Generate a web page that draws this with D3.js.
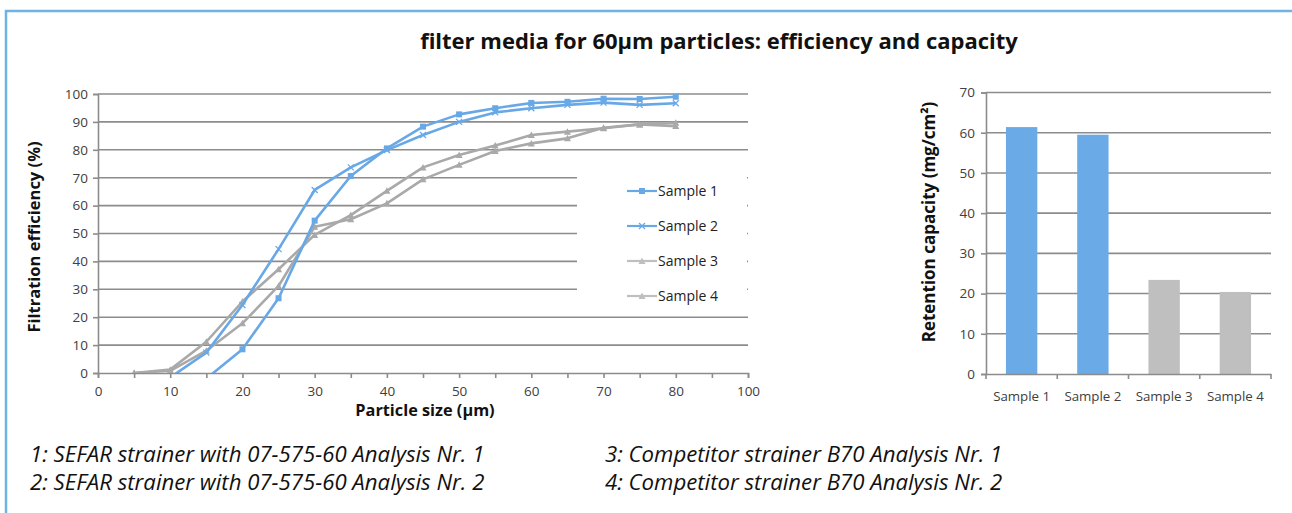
<!DOCTYPE html>
<html>
<head>
<meta charset="utf-8">
<script src="https://cdn.jsdelivr.net/npm/d3@7"></script>
<style>
  body { margin: 0; background: #fff; }
  text { font-family: "Open Sans", "Noto Sans", sans-serif; }
</style>
</head>
<body>
<svg id="svg" width="1292" height="513"></svg>
<script>
"use strict";
// particle sizes (µm) and efficiency per sample (%)
const sizes = [5, 10, 15, 20, 25, 30, 35, 40, 45, 50, 55, 60, 65, 70, 75, 80];
const sample1 = [null, null, -2, 8.5, 26.8, 54.6, 70.6, 80.5, 88.3, 92.7, 94.9, 96.8, 97.2, 98.3, 98.2, 99.0];
const sample2 = [null, -1.6, 7.3, 24.4, 44.4, 65.6, 73.7, 79.9, 85.3, 90.0, 93.4, 94.9, 96.1, 96.9, 96.1, 96.7];
const sample3 = [0, 1.2, 11.2, 25.6, 37.2, 49.5, 56.6, 65.3, 73.7, 78.1, 81.5, 85.3, 86.5, 87.7, 89.1, 88.5];
const sample4 = [0, 0.8, 8.0, 17.8, 31.2, 52.4, 55.1, 60.8, 69.4, 74.6, 79.6, 82.3, 84.1, 87.9, 89.1, 89.7];
const seriesNames = ["Sample 1", "Sample 2", "Sample 3", "Sample 4"];
const xTickLabels = ["0", "10", "20", "30", "40", "50", "60", "70", "80", "100"];
const yTickLabels = [0, 10, 20, 30, 40, 50, 60, 70, 80, 90, 100];
// retention capacity (mg/cm²)
const retention = [61.4, 59.5, 23.4, 20.4];
const notes = [
  "1: SEFAR strainer with 07-575-60 Analysis Nr. 1",
  "2: SEFAR strainer with 07-575-60 Analysis Nr. 2",
  "3: Competitor strainer B70 Analysis Nr. 1",
  "4: Competitor strainer B70 Analysis Nr. 2"
];

const blue = "#68a8e6", gray = "#a9a9a9", barGray = "#bfbfbf", grid = "#8c8c8c", txt = "#404040";
const svg = d3.select("#svg");

// frame
svg.append("path").attr("d", "M6,513 V11 H1292").attr("fill", "none")
  .attr("stroke", "#6db3e3").attr("stroke-width", 2.5);

svg.append("text").attr("x", 719).attr("y", 49).attr("text-anchor", "middle")
  .attr("font-size", 22).attr("font-weight", "bold").attr("fill", "#111")
  .text("filter media for 60µm particles: efficiency and capacity");

// ---------- line chart ----------
const x = d3.scaleLinear().domain([0, 90]).range([98, 748]);
const y = d3.scaleLinear().domain([0, 100]).range([373, 94]);

const g = svg.append("g");
g.selectAll(".grid").data(yTickLabels.slice(1)).enter().append("line")
  .attr("x1", x(0)).attr("x2", x(90)).attr("y1", d => y(d)).attr("y2", d => y(d))
  .attr("stroke", grid).attr("stroke-width", 1.6);

const yAxis = g.append("g").attr("transform", `translate(${x(0)},0)`)
  .call(d3.axisLeft(y).tickValues(yTickLabels).tickSize(5).tickPadding(5));
const xAxis = g.append("g").attr("transform", `translate(0,${y(0)})`)
  .call(d3.axisBottom(x).tickValues(d3.range(0, 91, 5)).tickSize(5).tickPadding(8)
    .tickFormat(d => d % 10 === 0 ? xTickLabels[d / 10] : ""));
[yAxis, xAxis].forEach(a => {
  a.selectAll("path, line").attr("stroke", grid).attr("stroke-width", 1.6);
  a.selectAll("text").attr("font-size", 13.5).attr("fill", txt).attr("font-family", "Open Sans");
});

// legend background hides gridlines
g.append("rect").attr("x", 577).attr("y", 156).attr("width", 170).attr("height", 145).attr("fill", "#fff");

svg.append("clipPath").attr("id", "plot").append("rect")
  .attr("x", x(0)).attr("y", y(100) - 10).attr("width", x(90) - x(0)).attr("height", y(0) - y(100) + 10);

const series = [
  { name: seriesNames[0], values: sample1, color: blue, marker: "square" },
  { name: seriesNames[1], values: sample2, color: blue, marker: "cross" },
  { name: seriesNames[2], values: sample3, color: gray, marker: "triangle" },
  { name: seriesNames[3], values: sample4, color: gray, marker: "triangle" }
];
const line = d3.line().defined(d => d[1] !== null).x(d => x(d[0])).y(d => y(d[1]));
const plot = g.append("g").attr("clip-path", "url(#plot)");

function drawMarker(sel, type, color) {
  if (type === "square") {
    sel.append("rect").attr("x", -3).attr("y", -3).attr("width", 6).attr("height", 6).attr("fill", color);
  } else if (type === "cross") {
    sel.append("path").attr("d", "M-3,-3L3,3M-3,3L3,-3").attr("stroke", color).attr("stroke-width", 1.3);
  } else {
    sel.append("path").attr("d", "M0,-3.5L3.5,3L-3.5,3Z").attr("fill", color);
  }
}

series.slice().reverse().forEach(s => {
  const pts = sizes.map((v, i) => [v, s.values[i]]);
  plot.append("path").datum(pts).attr("d", line).attr("fill", "none")
    .attr("stroke", s.color).attr("stroke-width", 2.6).attr("stroke-linejoin", "round");
  plot.selectAll(null).data(pts.filter(p => p[1] !== null && p[1] >= 0)).enter().append("g")
    .attr("transform", p => `translate(${x(p[0])},${y(p[1])})`)
    .each(function () { drawMarker(d3.select(this), s.marker, s.color); });
});

// legend
const leg = g.append("g").selectAll("g").data(series).enter().append("g")
  .attr("transform", (d, i) => `translate(627,${191 + i * 35})`);
leg.append("line").attr("x1", 0).attr("x2", 30).attr("stroke", (d, i) => i < 2 ? blue : barGray).attr("stroke-width", 2.2);
leg.each(function (d, i) { drawMarker(d3.select(this).append("g").attr("transform", "translate(15,0)"), d.marker, i < 2 ? blue : barGray); });
leg.append("text").attr("x", 31).attr("y", 5).attr("font-size", 14).attr("fill", "#222").text(d => d.name);

svg.append("text").attr("transform", "translate(40,237) rotate(-90)").attr("text-anchor", "middle")
  .attr("font-size", 16.5).attr("font-weight", "bold").attr("fill", "#111").text("Filtration efficiency (%)");
svg.append("text").attr("x", 425).attr("y", 416).attr("text-anchor", "middle")
  .attr("font-size", 16.3).attr("font-weight", "bold").attr("fill", "#111").text("Particle size (µm)");

// ---------- bar chart ----------
const xb = d3.scaleBand().domain(seriesNames).range([986, 1271]).paddingInner(0.56).paddingOuter(0.28);
const yb = d3.scaleLinear().domain([0, 70]).range([374, 92.5]);
const gb = svg.append("g");
gb.selectAll(".grid").data(d3.range(10, 71, 10)).enter().append("line")
  .attr("x1", 986).attr("x2", 1271).attr("y1", d => yb(d)).attr("y2", d => yb(d))
  .attr("stroke", grid).attr("stroke-width", 1.6);
gb.selectAll(".bar").data(retention).enter().append("rect")
  .attr("x", (d, i) => xb(seriesNames[i])).attr("width", xb.bandwidth())
  .attr("y", d => yb(d)).attr("height", d => yb(0) - yb(d))
  .attr("fill", (d, i) => i < 2 ? "#6aaae6" : barGray);

const ybAxis = gb.append("g").attr("transform", "translate(986,0)")
  .call(d3.axisLeft(yb).tickValues(d3.range(0, 71, 10)).tickSize(5).tickPadding(6));
const bandStep = xb.step();
const xbAxis = gb.append("g").attr("transform", `translate(0,${yb(0)})`)
  .call(d3.axisBottom(xb).tickSize(0).tickPadding(18));
xbAxis.selectAll(".tickmark").data(d3.range(5)).enter().append("line")
  .attr("x1", i => 986 + i * bandStep).attr("x2", i => 986 + i * bandStep)
  .attr("y1", 0).attr("y2", 5);
[ybAxis, xbAxis].forEach(a => {
  a.selectAll("path, line").attr("stroke", grid).attr("stroke-width", 1.6);
  a.selectAll("text").attr("font-size", 13.5).attr("fill", txt).attr("font-family", "Open Sans");
});
xbAxis.selectAll("text").attr("font-size", 13.3);

svg.append("text").attr("transform", "translate(935,222) rotate(-90)").attr("text-anchor", "middle")
  .attr("font-size", 17).attr("font-weight", "bold").attr("fill", "#111").text("Retention capacity (mg/cm²)");

// ---------- footnotes ----------
svg.selectAll(".note").data(notes).enter().append("text")
  .attr("x", (d, i) => i < 2 ? 30 : 605).attr("y", (d, i) => 462 + (i % 2) * 28)
  .attr("font-size", 22.2).attr("font-style", "italic").attr("fill", "#111").text(d => d);
</script>
</body>
</html>
